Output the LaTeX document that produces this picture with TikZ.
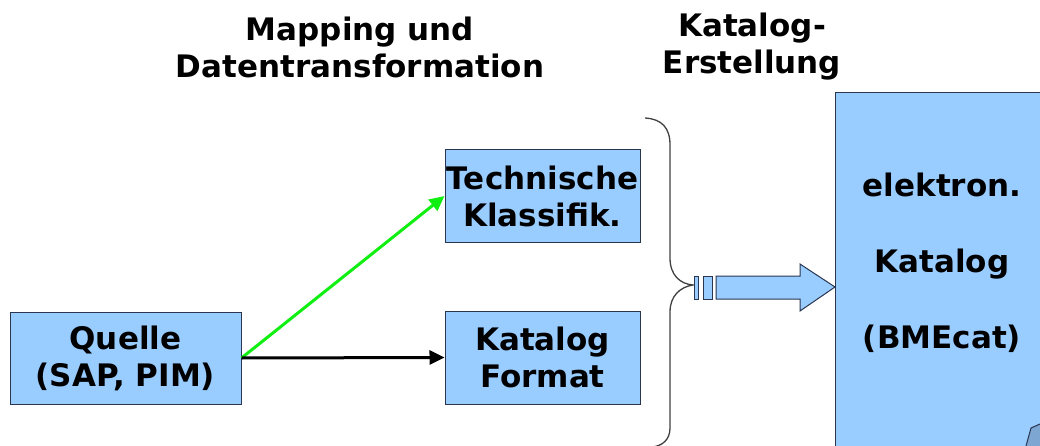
\documentclass[tikz,border=0pt]{standalone}
\usepackage{fontspec}
\setmainfont{DejaVu Sans}
\usetikzlibrary{arrows.meta}
\definecolor{boxfill}{HTML}{99CCFF}
\definecolor{boxline}{HTML}{2A3550}
\definecolor{brightgreen}{HTML}{11EE11}
\begin{document}
\begin{tikzpicture}[x=1pt,y=-1pt,
  lbl/.style={font=\bfseries\fontsize{31}{37}\selectfont, align=center, inner sep=0pt},
  blockbox/.style={draw=boxline, line width=1pt, fill=boxfill, inner sep=0pt,
    font=\bfseries\fontsize{31}{37}\selectfont, align=center},
  flow/.style={line width=3pt, -{Triangle[length=15pt,width=14pt]}}]
\useasboundingbox (0,0) rectangle (1040,446);
\begin{scope}
\clip (0,0) rectangle (1040,446);

% headings
\node[lbl] (head1) at (360,47) {Mapping und\\Datentransformation};
\node[lbl] (head2) at (752,47) {Katalog-\\Erstellung};

% source and mapping boxes
\node[blockbox, minimum width=231pt, minimum height=92pt] (src) at (125.5,358) {Quelle\\(SAP, PIM)};
\node[blockbox, minimum width=195pt, minimum height=92pt] (tech) at (542.5,196) {Technische\\Klassifik.};
\node[blockbox, minimum width=195pt, minimum height=93pt] (fmt) at (542.5,357.5) {Katalog\\Format};

% catalogue document (runs past the right and bottom edges)
\node[draw=boxline, line width=1pt, fill=boxfill, minimum width=220pt, minimum height=370pt,
  inner sep=0pt, anchor=north west] (cat) at (835,92) {};
\fill[boxfill!75!boxline] (1026,446) -- (1031,428) -- (1040,424) -- (1040,446) -- cycle;
\draw[boxline, line width=1pt] (1026,446) -- (1031,428) -- (1040,424);
\node[lbl, font=\bfseries\fontsize{31}{76}\selectfont] (cattext) at (942,263) {elektron.\\Katalog\\(BMEcat)};

% connectors
\draw[flow, brightgreen] (src.east) -- (tech.west);
\draw[flow, black] (src.east) -- (fmt.west);

% brace grouping the mapping steps
\coordinate (tip) at (693,285);
\draw[black!75, line width=1.3pt]
  (645,118) .. controls (662,119) and (670,128) .. (670,145)
  -- (670,258) .. controls (670,275) and (680,284) .. (tip)
  .. controls (680,287) and (670,296) .. (670,312)
  -- (670,428) .. controls (670,440) and (662,446) .. (652,447);

% striped block arrow into the catalogue
\coordinate (arrtip) at (cat.west |- 0,287);
\begin{scope}[draw=boxline, fill=boxfill, line width=1pt]
  \filldraw (694,276) rectangle (698,299);
  \filldraw (703,276) rectangle (712,299);
  \filldraw (716,276) -- (800,276) -- (800,264) -- (arrtip) -- (800,311)
    -- (800,299) -- (716,299) -- cycle;
\end{scope}
\end{scope}
\end{tikzpicture}
\end{document}
